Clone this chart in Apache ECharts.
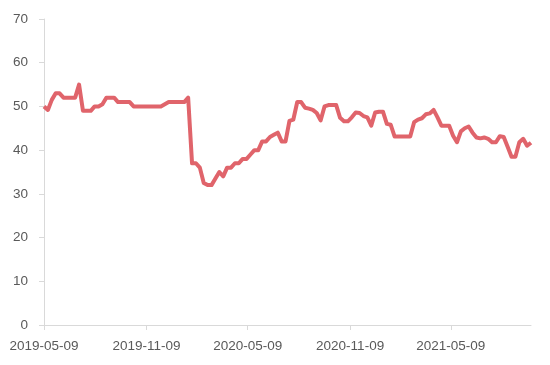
<!DOCTYPE html>
<html>
<head>
<meta charset="utf-8">
<script src="https://cdn.jsdelivr.net/npm/echarts@6/dist/echarts.min.js"></script>
<style>html,body{margin:0;padding:0;background:#fff}#c{width:550px;height:365px}</style>
</head>
<body>
<div id="c"></div>
<script>
// Weekly observations starting 2019-05-09
var startDate = '2019-05-09';
var endDate = '2021-09-30';
var values = [
50,49.2,51.5,53,53,52,52,52,52,55,
49,49,49,50,50,50.5,52,52,52,51,
51,51,51,50,50,50,50,50,50,50,
50,50.5,51,51,51,51,51,52,37,37,
36,32.5,32,32,33.5,35,34,36,36,37,
37,38,38,39,40,40,42,42,43,43.5,
44,42,42,46.7,47,51,51,49.7,49.5,49.2,
48.5,46.8,50,50.3,50.3,50.3,47.4,46.6,46.6,47.5,
48.6,48.5,47.8,47.5,45.6,48.6,48.8,48.8,46,45.8,
43.1,43.1,43.1,43.1,43.1,46.4,47,47.3,48.2,48.4,
49.2,47.5,45.6,45.6,45.6,43.3,41.8,44.3,45,45.4,
44,42.9,42.7,42.9,42.6,41.8,41.8,43.2,43,40.8,
38.5,38.5,41.8,42.6,41,41.7
];
var tickLabels = ['2019-05-09','2019-11-09','2020-05-09','2020-11-09','2021-05-09'];

function toTime(s){ var p = s.split('-'); return new Date(+p[0], +p[1]-1, +p[2]).getTime(); }
var s0 = startDate.split('-');
var seriesData = values.map(function(v,i){
  return [new Date(+s0[0], +s0[1]-1, +s0[2] + 7*i).getTime(), v];
});
var tickTimes = tickLabels.map(toTime);

var chart = echarts.init(document.getElementById('c'));
chart.setOption({
  animation: false,
  grid: {left: 44, right: 19, top: 19, bottom: 40},
  xAxis: {
    type: 'time', min: toTime(startDate), max: toTime(endDate),
    splitLine: {show: false},
    axisLine: {lineStyle: {color: '#d9d9d9', width: 1}},
    axisTick: {show: true, customValues: tickTimes, length: 5, lineStyle: {color: '#d9d9d9'}},
    axisLabel: {customValues: tickTimes, formatter: '{yyyy}-{MM}-{dd}', color: '#595959', fontSize: 13.5, fontFamily: 'Liberation Sans', margin: 14, hideOverlap: false}
  },
  yAxis: {
    type: 'value', min: 0, max: 70, interval: 10,
    splitLine: {show: false},
    axisLine: {show: true, lineStyle: {color: '#d9d9d9', width: 1}},
    axisTick: {show: true, length: 5, lineStyle: {color: '#d9d9d9'}},
    axisLabel: {color: '#595959', fontSize: 13.5, fontFamily: 'Liberation Sans', margin: 16}
  },
  series: [{
    type: 'line', data: seriesData, showSymbol: false, symbol: 'none',
    lineStyle: {color: '#e0646b', width: 4, join: 'round'}
  }]
});
</script>
</body>
</html>
